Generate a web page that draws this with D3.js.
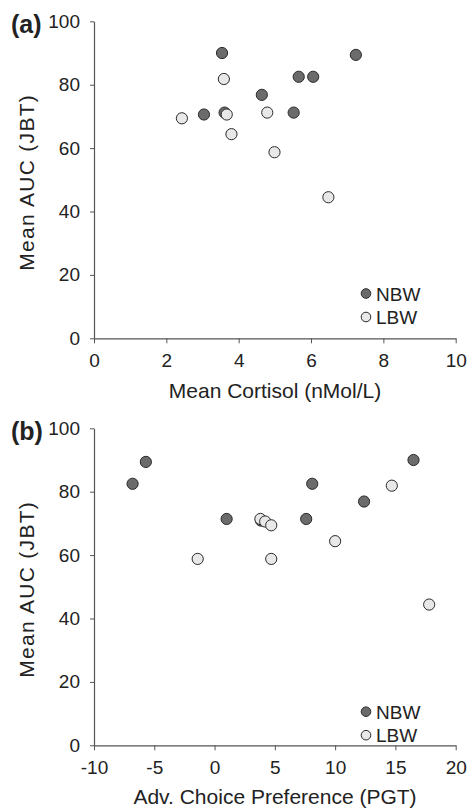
<!DOCTYPE html>
<html>
<head>
<meta charset="utf-8">
<script src="https://cdn.jsdelivr.net/npm/d3@7"></script>
<style>
  body { margin: 0; background: #fff; }
  svg text { font-family: "Liberation Sans", Arial, sans-serif; fill: #222; }
</style>
</head>
<body>
<div id="chart"></div>
<script>
var W = 468, H = 811;

// panel (a): cortisol vs AUC
var cortNBW_x = [3.54, 3.04, 3.61, 4.64, 5.66, 6.06, 5.52, 7.24],
    cortNBW_y = [90.0, 70.6, 71.2, 76.8, 82.5, 82.5, 71.2, 89.4];
var cortLBW_x = [2.43, 3.59, 3.67, 3.80, 4.79, 4.99, 6.48],
    cortLBW_y = [69.4, 81.8, 70.6, 64.4, 71.2, 58.7, 44.5];

// panel (b): PGT preference vs AUC
var pgtNBW_x = [-6.8, -5.7, 1.0, 3.85, 7.6, 8.1, 12.4, 16.5],
    pgtNBW_y = [82.5, 89.4, 71.4, 70.9, 71.4, 82.5, 76.9, 90.0];
var pgtLBW_x = [-1.4, 3.8, 4.2, 4.7, 4.7, 10.0, 14.7, 17.8],
    pgtLBW_y = [58.8, 71.4, 70.6, 69.4, 58.8, 64.4, 81.9, 44.4];

var yTicks = [0, 20, 40, 60, 80, 100];
var xTicksA = [0, 2, 4, 6, 8, 10];
var xTicksB = [-10, -5, 0, 5, 10, 15, 20];
var groups = ["NBW", "LBW"];
var fills = {NBW: "#6b6b6b", LBW: "#e8e8e8"};

var svg = d3.select("#chart").append("svg")
    .attr("width", W).attr("height", H);

function zip(xs, ys) { return xs.map(function(d, i) { return [d, ys[i]]; }); }

function styleAxis(a) {
  a.attr("font-size", null).attr("font-family", null);
  a.select(".domain").attr("stroke", "#555").attr("stroke-width", 1.2);
  a.selectAll(".tick line").attr("stroke", "#555");
  a.selectAll("text").style("font-size", "19px").style("fill", "#222");
}

function panel(opt) {
  var x = d3.scaleLinear().domain(opt.xDomain).range([94, 455.7]);
  var y = d3.scaleLinear().domain([0, 100]).range([opt.y0, opt.y0 - 317]);
  var g = svg.append("g");

  // plain hyphen for negatives, like the original
  g.append("g")
    .attr("transform", "translate(0," + opt.y0 + ")")
    .call(d3.axisBottom(x).tickValues(opt.xTicks).tickSize(5).tickSizeOuter(0).tickPadding(10)
      .tickFormat(function(d) { return String(d); }))
    .call(styleAxis);

  g.append("g")
    .attr("transform", "translate(94,0)")
    .call(d3.axisLeft(y).tickValues(yTicks).tickSize(4).tickSizeOuter(0).tickPadding(10))
    .call(styleAxis);

  // NBW drawn first, LBW on top
  var pts = zip(opt.nbwX, opt.nbwY).map(function(d) { return {v: d, grp: "NBW"}; })
    .concat(zip(opt.lbwX, opt.lbwY).map(function(d) { return {v: d, grp: "LBW"}; }));
  g.selectAll(".dot").data(pts).enter()
    .append("circle")
    .attr("class", "dot")
    .attr("cx", function(d) { return x(d.v[0]); })
    .attr("cy", function(d) { return y(d.v[1]); })
    .attr("r", 5.6)
    .attr("fill", function(d) { return fills[d.grp]; })
    .attr("stroke", "#2a2a2a")
    .attr("stroke-width", 1);

  // legend
  var leg = g.selectAll(".leg").data(groups).enter().append("g")
    .attr("transform", function(d, i) { return "translate(366," + (opt.legY + i * 23.5) + ")"; });
  leg.append("circle").attr("r", 4.8)
    .attr("fill", function(d) { return fills[d]; })
    .attr("stroke", "#2a2a2a").attr("stroke-width", 1);
  leg.append("text").attr("x", 10).attr("y", 7)
    .style("font-size", "19px").text(function(d) { return d; });

  // panel letter
  svg.append("text").attr("x", 11).attr("y", opt.y0 - 305.5)
    .style("font-size", "25px").attr("font-weight", "bold").text(opt.letter);

  // axis titles
  svg.append("text")
    .attr("transform", "translate(34," + (opt.y0 - 156) + ") rotate(-90)")
    .attr("text-anchor", "middle").style("font-size", "21px")
    .style("letter-spacing", "1.3px").text("Mean AUC (JBT)");
  svg.append("text").attr("x", 275).attr("y", opt.titleY)
    .attr("text-anchor", "middle").style("font-size", "21px").text(opt.xTitle);
}

panel({letter: "(a)", y0: 338.3, xDomain: [0, 10], xTicks: xTicksA,
       nbwX: cortNBW_x, nbwY: cortNBW_y, lbwX: cortLBW_x, lbwY: cortLBW_y,
       legY: 293.5, titleY: 398, xTitle: "Mean Cortisol (nMol/L)"});

panel({letter: "(b)", y0: 745.3, xDomain: [-10, 20], xTicks: xTicksB,
       nbwX: pgtNBW_x, nbwY: pgtNBW_y, lbwX: pgtLBW_x, lbwY: pgtLBW_y,
       legY: 711.7, titleY: 804, xTitle: "Adv. Choice Preference (PGT)"});
</script>
</body>
</html>
